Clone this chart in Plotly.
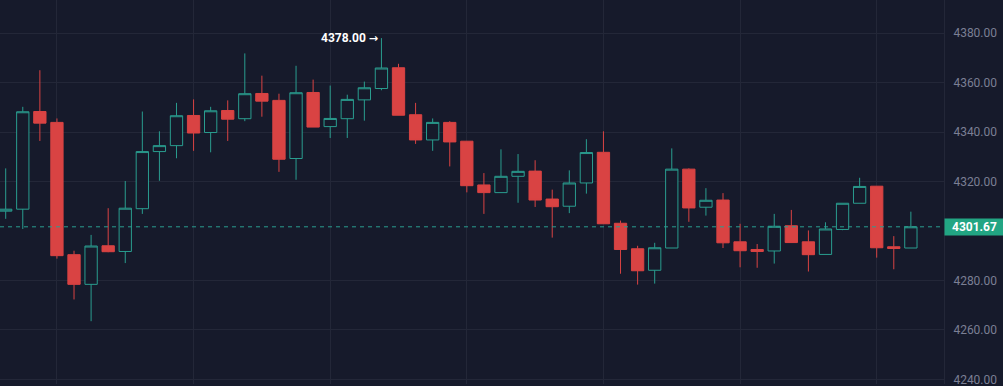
import plotly.graph_objects as go

# ---- data ----
idx = list(range(54))
open_ = [4308.0, 4308.8, 4348.3, 4343.9, 4290.4, 4278.4, 4294.0, 4291.7, 4309.0, 4332.1,
         4334.5, 4346.7, 4339.8, 4348.7, 4345.4, 4355.6, 4352.8, 4329.3, 4356.0, 4342.2,
         4345.4, 4353.0, 4357.6, 4366.0, 4347.0, 4336.8, 4343.9, 4336.3, 4318.6, 4315.5,
         4322.1, 4324.2, 4312.9, 4310.0, 4319.4, 4331.8, 4303.1, 4292.8, 4284.1, 4293.1,
         4325.0, 4309.6, 4312.5, 4295.6, 4292.5, 4291.9, 4302.1, 4295.6, 4290.5, 4300.6,
         4311.2, 4318.1, 4293.6, 4293.1]
high = [4325.3, 4350.2, 4365.0, 4345.5, 4292.0, 4298.4, 4309.2, 4320.2, 4348.3, 4340.3,
        4351.8, 4353.2, 4350.2, 4352.8, 4371.8, 4362.8, 4355.5, 4366.8, 4361.2, 4358.8,
        4355.1, 4360.4, 4378.0, 4367.6, 4351.8, 4345.5, 4344.4, 4336.3, 4323.4, 4333.0,
        4331.1, 4328.6, 4316.7, 4324.5, 4337.1, 4340.3, 4304.2, 4294.0, 4295.2, 4333.4,
        4325.3, 4317.3, 4315.3, 4302.9, 4294.7, 4306.9, 4308.5, 4300.2, 4303.5, 4311.2,
        4321.5, 4318.1, 4297.9, 4307.8]
low = [4304.9, 4300.8, 4336.4, 4288.8, 4272.3, 4263.5, 4291.4, 4287.0, 4306.9, 4320.3,
       4329.4, 4332.4, 4331.8, 4336.4, 4344.4, 4346.2, 4323.9, 4320.7, 4342.0, 4337.6,
       4337.6, 4344.6, 4356.9, 4346.8, 4335.2, 4332.4, 4326.1, 4315.6, 4306.9, 4315.5,
       4311.4, 4309.7, 4297.3, 4307.2, 4315.1, 4302.9, 4282.7, 4278.3, 4278.7, 4293.1,
       4303.7, 4306.2, 4293.1, 4285.3, 4285.1, 4286.8, 4295.3, 4283.6, 4290.5, 4300.3,
       4311.2, 4289.2, 4284.5, 4293.1]
close = [4308.8, 4348.2, 4343.6, 4290.0, 4278.4, 4293.9, 4291.6, 4309.2, 4332.1, 4334.5,
         4346.6, 4339.6, 4348.6, 4345.2, 4355.5, 4352.5, 4329.0, 4355.9, 4342.0, 4345.5,
         4353.2, 4357.9, 4365.9, 4346.8, 4336.8, 4343.9, 4336.0, 4318.3, 4315.5, 4322.1,
         4324.1, 4312.5, 4309.8, 4319.4, 4331.7, 4302.9, 4292.5, 4283.9, 4293.2, 4325.0,
         4309.3, 4312.4, 4295.2, 4292.0, 4291.7, 4301.9, 4295.3, 4290.4, 4300.8, 4311.2,
         4318.0, 4293.2, 4292.9, 4301.67]
y_ticks = [4240, 4260, 4280, 4320, 4340, 4360, 4380]
x_grid = [3, 11, 19, 27, 35, 43, 51]

BG = "#161a2b"
GRID = "#232738"
TEAL = "#2a9d8f"
RED = "#d94343"
LABEL_GREEN = "#22a583"

fig = go.Figure()
fig.add_trace(go.Candlestick(
    x=idx, open=open_, high=high, low=low, close=close,
    increasing=dict(line=dict(color=TEAL, width=1), fillcolor=BG),
    decreasing=dict(line=dict(color=RED, width=1), fillcolor=RED),
    whiskerwidth=0, hoverinfo="skip",
))

last = close[-1]
fig.add_shape(type="line", xref="paper", x0=0, x1=1, yref="y", y0=last, y1=last,
              line=dict(color=TEAL, width=1, dash="4px,4px"))

imax = max(range(len(high)), key=lambda i: high[i])
fig.add_annotation(x=imax, y=high[imax], xref="x", yref="y",
                   text=(f"<b>{high[imax]:.2f}</b>&nbsp;"
                         "<span style='font-family:DejaVu Sans;font-size:11px'><b>→</b></span>"),
                   showarrow=False,
                   xanchor="right", yanchor="middle", xshift=-1,
                   font=dict(family="Roboto", size=12, color="#ffffff"))

fig.add_annotation(x=1, y=last, xref="paper", yref="y",
                   text=f"<b>{last:.2f}</b>", showarrow=False,
                   xanchor="left", yanchor="middle",
                   bgcolor=LABEL_GREEN, width=55, height=12, borderpad=2,
                   font=dict(family="Roboto", size=12, color="#ffffff"))

fig.update_layout(
    width=1003, height=386,
    margin=dict(l=0, r=59, t=0, b=0),
    paper_bgcolor=BG, plot_bgcolor=BG,
    showlegend=False, hovermode=False,
    boxgap=0.28, boxgroupgap=0,
    xaxis=dict(range=[-0.334, 54.94], rangeslider=dict(visible=False),
               tickvals=x_grid, showticklabels=False, showgrid=True,
               gridcolor=GRID, gridwidth=1, zeroline=False, showline=False),
    yaxis=dict(side="right", range=[4238.1, 4393.4], tickvals=y_ticks,
               tickformat=".2f", showgrid=True, gridcolor=GRID, gridwidth=1,
               zeroline=False, showline=True, linecolor=GRID, linewidth=1,
               ticks="", ticklabelstandoff=6, ticklabeloverflow="allow",
               tickfont=dict(family="Roboto", size=12, color="#7b7f94")),
)

fig.write_html("out.html", config={"displayModeBar": False},
               post_script="document.body.style.margin='0';document.body.style.overflow='hidden';")
